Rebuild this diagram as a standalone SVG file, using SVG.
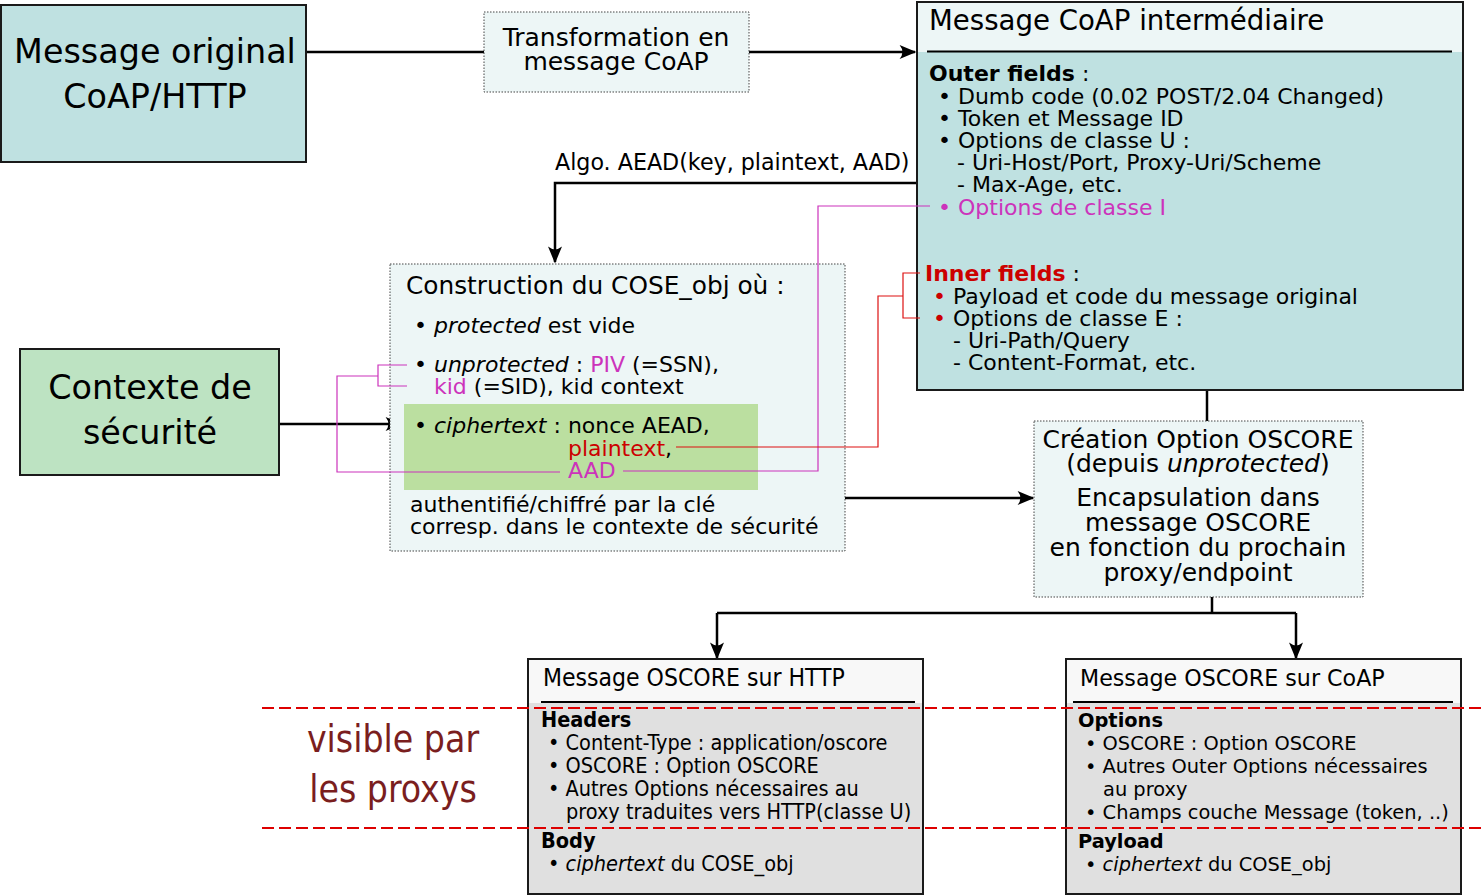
<svg xmlns="http://www.w3.org/2000/svg" width="1484" height="896" viewBox="0 0 1484 896">
<defs>
<style>
text{font-family:"DejaVu Sans","Liberation Sans",sans-serif;fill:#000}
.cond{font-family:"DejaVu Sans Condensed","DejaVu Sans",sans-serif;font-stretch:condensed}
.box{stroke:#1a1a1a;stroke-width:2}
.dot{stroke:#444;stroke-width:1;stroke-dasharray:1.5,1.5}
.conn{fill:none;stroke:#000;stroke-width:2.5}
.mag{fill:none;stroke:#cc33bb;stroke-width:1.2}
.red{fill:none;stroke:#dd1111;stroke-width:1.2}
.dash{fill:none;stroke:#dd0000;stroke-width:2;stroke-dasharray:12,5}
.m{fill:#cc33bb}
.r{fill:#cc0000}
.dr{fill:#7a1e1e}
</style>
<marker id="ahs" viewBox="0 0 12 10" refX="11" refY="5" markerWidth="22" markerHeight="14" markerUnits="userSpaceOnUse" orient="auto">
<path d="M0,0 L12,5 L0,10 Q4,5 0,0 z" fill="#000"/>
</marker>
</defs>

<g id="connectors">
<path class="conn" d="M306,52 H484"/>
<path class="conn" d="M749,52 H915" marker-end="url(#ahs)"/>
<path class="conn" d="M917,183 H555 V262" marker-end="url(#ahs)"/>
<path class="conn" d="M279,424 H401" marker-end="url(#ahs)"/>
<path class="conn" d="M845,498 H1033" marker-end="url(#ahs)"/>
<path class="conn" d="M1207,390 V421"/>
<path class="conn" d="M1212,597 V613 M717,613 H1296 M717,613 V640 M1296,613 V640"/>
<path class="conn" d="M717,640 V658" marker-end="url(#ahs)"/>
<path class="conn" d="M1296,640 V658" marker-end="url(#ahs)"/>
<text x="555" y="170" font-size="22.2">Algo. AEAD(key, plaintext, AAD)</text>
</g>

<g id="node-original">
<rect class="box" x="1" y="5" width="305" height="157" fill="#bfe1e1"/>
<text x="155" y="63" font-size="33.4" text-anchor="middle">Message original</text>
<text x="155" y="108" font-size="33.4" text-anchor="middle">CoAP/HTTP</text>
</g>

<g id="node-transformation">
<rect class="dot" x="484" y="12" width="265" height="80" fill="#edf6f6"/>
<text x="616" y="46" font-size="25" text-anchor="middle">Transformation en</text>
<text x="616" y="70" font-size="25" text-anchor="middle">message CoAP</text>
</g>

<g id="node-intermediaire">
<rect x="917" y="2" width="546" height="388" fill="#bfe1e1"/>
<rect x="918" y="3" width="544" height="49" fill="#edf6f6"/>
<rect class="box" x="917" y="2" width="546" height="388" fill="none"/>
<line x1="927" y1="51.5" x2="1452" y2="51.5" stroke="#000" stroke-width="2"/>
<text x="929" y="30" font-size="27.6">Message CoAP intermédiaire</text>
<text x="929" y="81" font-size="22"><tspan font-weight="bold">Outer fields</tspan> :</text>
<text x="938" y="104" font-size="22">• Dumb code (0.02 POST/2.04 Changed)</text>
<text x="938" y="126" font-size="22">• Token et Message ID</text>
<text x="938" y="148" font-size="22">• Options de classe U :</text>
<text x="957" y="170" font-size="22">- Uri-Host/Port, Proxy-Uri/Scheme</text>
<text x="957" y="192" font-size="22">- Max-Age, etc.</text>
<text x="938" y="215" font-size="22" class="m">• Options de classe I</text>
<text x="925" y="281" font-size="22"><tspan font-weight="bold" class="r">Inner fields</tspan> :</text>
<text x="933" y="304" font-size="22"><tspan class="r">•</tspan> Payload et code du message original</text>
<text x="933" y="326" font-size="22"><tspan class="r">•</tspan> Options de classe E :</text>
<text x="953" y="348" font-size="22">- Uri-Path/Query</text>
<text x="953" y="370" font-size="22">- Content-Format, etc.</text>
</g>

<g id="node-construction">
<rect class="dot" x="390" y="264" width="455" height="287" fill="#edf6f6"/>
<rect x="404" y="404" width="354" height="86" fill="#bbdfa0"/>
<text x="406" y="294" font-size="24.8">Construction du COSE_obj où :</text>
<text x="414" y="333" font-size="22">• <tspan font-style="italic">protected</tspan> est vide</text>
<text x="414" y="372" font-size="22">• <tspan font-style="italic">unprotected</tspan> : <tspan class="m">PIV</tspan> (=SSN),</text>
<text x="434" y="394" font-size="22"><tspan class="m">kid</tspan> (=SID), kid context</text>
<text x="414" y="433" font-size="22">• <tspan font-style="italic">ciphertext</tspan> : nonce AEAD,</text>
<text x="568" y="456" font-size="22"><tspan class="r">plaintext</tspan>,</text>
<text x="568" y="478" font-size="22" class="m">AAD</text>
<text x="410" y="512" font-size="22">authentifié/chiffré par la clé</text>
<text x="410" y="534" font-size="22">corresp. dans le contexte de sécurité</text>
</g>

<g id="node-contexte">
<rect class="box" x="20" y="349" width="259" height="126" fill="#bde3c2"/>
<text x="150" y="399" font-size="33.4" text-anchor="middle">Contexte de</text>
<text x="150" y="444" font-size="33.4" text-anchor="middle">sécurité</text>
</g>

<g id="node-creation">
<rect class="dot" x="1034" y="421" width="329" height="176" fill="#edf6f6"/>
<text x="1198" y="448" font-size="25" text-anchor="middle">Création Option OSCORE</text>
<text x="1198" y="472" font-size="25" text-anchor="middle">(depuis <tspan font-style="italic">unprotected</tspan>)</text>
<text x="1198" y="506" font-size="25" text-anchor="middle">Encapsulation dans</text>
<text x="1198" y="531" font-size="25" text-anchor="middle">message OSCORE</text>
<text x="1198" y="556" font-size="25" text-anchor="middle">en fonction du prochain</text>
<text x="1198" y="581" font-size="25" text-anchor="middle">proxy/endpoint</text>
</g>

<g id="node-http">
<rect x="528" y="659" width="395" height="235" fill="#e0e0e0"/>
<rect x="529" y="660" width="393" height="43" fill="#f8f8f8"/>
<rect class="box" x="528" y="659" width="395" height="235" fill="none"/>
<line x1="541" y1="702" x2="915" y2="702" stroke="#000" stroke-width="2"/>
<text class="cond" x="543" y="686" font-size="24.5">Message OSCORE sur HTTP</text>
<text class="cond" x="541" y="727" font-size="21.5" font-weight="bold">Headers</text>
<text class="cond" x="548" y="750" font-size="21.5">• Content-Type : application/oscore</text>
<text class="cond" x="548" y="773" font-size="21.5">• OSCORE : Option OSCORE</text>
<text class="cond" x="548" y="796" font-size="21.5">• Autres Options nécessaires au</text>
<text class="cond" x="566" y="819" font-size="21.5">proxy traduites vers HTTP(classe U)</text>
<text class="cond" x="541" y="848" font-size="21.5" font-weight="bold">Body</text>
<text class="cond" x="548" y="871" font-size="21.5">• <tspan font-style="italic">ciphertext</tspan> du COSE_obj</text>
</g>

<g id="node-coap">
<rect x="1066" y="659" width="395" height="235" fill="#e0e0e0"/>
<rect x="1067" y="660" width="393" height="43" fill="#f8f8f8"/>
<rect class="box" x="1066" y="659" width="395" height="235" fill="none"/>
<line x1="1073" y1="702" x2="1453" y2="702" stroke="#000" stroke-width="2"/>
<text x="1080" y="686" font-size="22.2">Message OSCORE sur CoAP</text>
<text x="1078" y="727" font-size="19.4" font-weight="bold">Options</text>
<text x="1085" y="750" font-size="19.4">• OSCORE : Option OSCORE</text>
<text x="1085" y="773" font-size="19.4">• Autres Outer Options nécessaires</text>
<text x="1103" y="796" font-size="19.4">au proxy</text>
<text x="1085" y="819" font-size="19.4">• Champs couche Message (token, ..)</text>
<text x="1078" y="848" font-size="19.4" font-weight="bold">Payload</text>
<text x="1085" y="871" font-size="19.4">• <tspan font-style="italic">ciphertext</tspan> du COSE_obj</text>
</g>

<g id="annotations">
<path class="mag" d="M407,365 H378 V386 H407 M378,376 H337 V472 H560"/>
<path class="mag" d="M623,471 H818 V206 H930"/>
<path class="red" d="M676,447 H878 V296 H903 M920,273 H903 V318 H920"/>
<path class="dash" d="M262,708 H1484 M262,828 H1484"/>
<text class="cond dr" x="393" y="752" font-size="37" text-anchor="middle">visible par</text>
<text class="cond dr" x="393" y="802" font-size="37" text-anchor="middle">les proxys</text>
</g>
</svg>
